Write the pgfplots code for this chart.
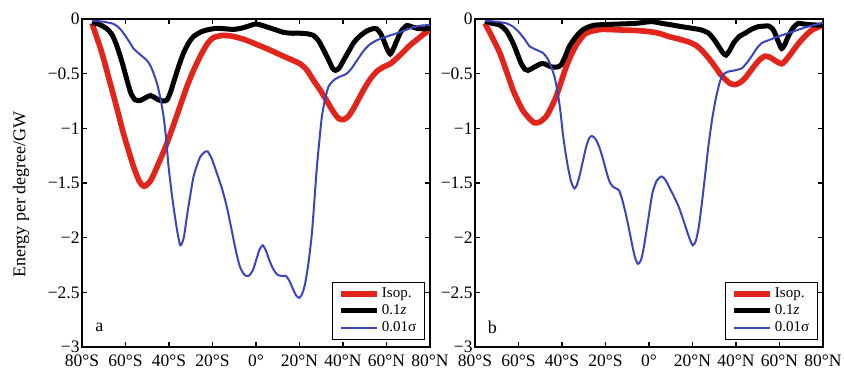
\documentclass[border=0pt]{standalone}
\usepackage{fontspec}
\setmainfont{Liberation Serif}
\usepackage{pgfplots}
\pgfplotsset{compat=1.18}

\definecolor{isored}{RGB}{226,36,26}
\definecolor{sigblue}{RGB}{58,68,188}

\pgfplotsset{
  energy/.style={
    scale only axis, width=174pt, height=164pt,
    xmin=-80, xmax=80, ymin=-3, ymax=0,
    xtick={-80,-60,-40,-20,0,20,40,60,80},
    xticklabels={80°S,60°S,40°S,20°S,0°,20°N,40°N,60°N,80°N},
    ytick={-3,-2.5,-2,-1.5,-1,-0.5,0},
    yticklabels={−3,−2.5,−2,−1.5,−1,−0.5,0},
    tick align=inside, major tick length=2.5pt,
    tick style={black, line width=0.6pt},
    axis line style={line width=0.8pt},
    tick label style={font=\fontsize{8.75}{10}\selectfont},
    yticklabel style={inner xsep=1pt, inner ysep=0pt},
    xticklabel style={inner ysep=3.8pt, inner xsep=0pt},
    label style={font=\fontsize{9}{10}\selectfont},
    legend cell align=left,
    legend style={at={(rel axis cs:0.986,0.021)}, anchor=south east,
      draw=black, line width=0.8pt, font=\fontsize{7.5}{8.5}\selectfont,
      inner xsep=3pt, inner ysep=1.5pt, row sep=0pt,
      nodes={inner sep=1pt}},
    legend image code/.code={\draw[#1,line cap=butt] (0pt,0pt) -- (18pt,0pt);},
  },
  isop/.style={isored, line width=2.8pt, smooth, tension=0.4},
  zed/.style={black, line width=2.5pt, smooth, tension=0.4},
  sig/.style={sigblue, line width=1pt, smooth, tension=0.4},
}

\begin{document}
\begin{tikzpicture}
\path[use as bounding box] (-41pt,-12pt) rectangle (381pt,173.5pt);

% ---- panel a ----
\begin{axis}[energy, at={(0pt,0pt)}, anchor=south west,
  ylabel={Energy per degree/GW},
  ylabel style={at={(rel axis cs:-0.175,0.465)}, anchor=center}]
\addplot[isop] coordinates {
(-75.4,-0.04) (-71,-0.30) (-67,-0.59) (-63.5,-0.85) (-60.9,-1.05) (-56.3,-1.35)
(-53.5,-1.49) (-51.4,-1.53) (-48.5,-1.48) (-45,-1.33) (-41,-1.14) (-36,-0.86)
(-31.8,-0.62) (-28.5,-0.46) (-25.6,-0.34) (-22.5,-0.23) (-19.5,-0.17) (-15,-0.15)
(-10.3,-0.16) (-5,-0.19) (0,-0.23) (6,-0.28) (12.6,-0.34) (20.3,-0.41) (23.5,-0.47)
(26.4,-0.56) (29.5,-0.65) (32.6,-0.75) (35.6,-0.85) (38,-0.91) (40.2,-0.92)
(42.5,-0.89) (44.8,-0.82) (47,-0.74) (49.4,-0.65) (52.5,-0.55) (55.5,-0.48)
(58.5,-0.44) (61.7,-0.41) (64.7,-0.36) (67.8,-0.30) (70.8,-0.24) (73.9,-0.19)
(77,-0.14) (80,-0.10)};
\addlegendentry{Isop.}
\addplot[zed] coordinates {
(-75.4,-0.03) (-72,-0.05) (-68.5,-0.09) (-66,-0.15) (-63.9,-0.25) (-61.5,-0.40)
(-59.3,-0.56) (-57.5,-0.68) (-55.5,-0.74) (-53.2,-0.745) (-50.8,-0.72) (-48.6,-0.70)
(-46.5,-0.72) (-44.8,-0.74) (-42.5,-0.75) (-40.9,-0.74) (-39.3,-0.67) (-37.9,-0.58)
(-35.5,-0.43) (-33.3,-0.31) (-31,-0.22) (-28.7,-0.16) (-25.5,-0.12) (-22.6,-0.10)
(-18,-0.085) (-14,-0.09) (-10.3,-0.095) (-7,-0.085) (-4.2,-0.07) (-2,-0.055)
(0,-0.045) (2.2,-0.055) (4.6,-0.07) (8.5,-0.095) (12.3,-0.12) (16,-0.13) (20,-0.13)
(23.5,-0.135) (26.4,-0.15) (28.8,-0.2) (31,-0.28) (33.5,-0.38) (35.2,-0.45)
(36.5,-0.47) (38.2,-0.45) (40.2,-0.38) (42.5,-0.30) (44.8,-0.22) (47.5,-0.16)
(50.9,-0.11) (53.5,-0.09) (55.5,-0.09) (57.2,-0.13) (58.6,-0.19) (60.2,-0.27)
(61.7,-0.32) (63.2,-0.27) (64.7,-0.2) (66.8,-0.11) (69.3,-0.06) (71.5,-0.07)
(73.9,-0.085) (77,-0.09) (80,-0.085)};
\addlegendentry{0.1\textit{z}}
\addplot[sig] coordinates {
(-75.4,-0.015) (-70,-0.025) (-65.5,-0.045) (-63,-0.08) (-60.9,-0.13) (-58.5,-0.20)
(-56.3,-0.27) (-53,-0.33) (-50.1,-0.38) (-48,-0.45) (-45.5,-0.59) (-43.8,-0.74)
(-42.5,-0.89) (-41.3,-1.10) (-40.2,-1.35) (-38.9,-1.57) (-37.9,-1.72) (-36.3,-1.93)
(-34.8,-2.07) (-33.2,-2.0) (-31.8,-1.81) (-30.2,-1.61) (-28.7,-1.44) (-27,-1.33)
(-25.6,-1.26) (-23.8,-1.22) (-22.3,-1.21) (-20.3,-1.28) (-18,-1.41) (-15.5,-1.56)
(-13.4,-1.72) (-11.8,-1.87) (-10.3,-2.02) (-8.8,-2.16) (-7.3,-2.27) (-5.3,-2.34)
(-3.4,-2.35) (-1.5,-2.30) (0,-2.21) (1.6,-2.11) (3.1,-2.07) (4.6,-2.12) (6.2,-2.21)
(8,-2.29) (9.9,-2.34) (12,-2.35) (13.7,-2.35) (15.2,-2.39) (16.8,-2.46) (18.5,-2.53)
(20,-2.55) (21.3,-2.51) (22.6,-2.42) (24.2,-2.22) (25.7,-1.96) (27,-1.62) (28,-1.35)
(29.2,-1.10) (30.3,-0.89) (31.8,-0.73) (33.3,-0.62) (35.2,-0.57) (37.2,-0.54)
(39.5,-0.52) (41.7,-0.50) (44,-0.45) (46.4,-0.38) (49.5,-0.29) (52.5,-0.23)
(56,-0.19) (60.2,-0.16) (66.2,-0.12) (72.4,-0.075) (76,-0.06) (80,-0.055)};
\addlegendentry{0.01σ}
\node[font=\fontsize{9}{10}\selectfont] at (axis cs:-72,-2.82) {a};
\end{axis}

% ---- panel b ----
\begin{axis}[energy, at={(196.5pt,0pt)}, anchor=south west]
\addplot[isop] coordinates {
(-75.4,-0.04) (-72,-0.17) (-68.6,-0.31) (-65.5,-0.48) (-62.5,-0.65) (-60,-0.76)
(-57.9,-0.84) (-55,-0.91) (-52.6,-0.95) (-50,-0.94) (-47.2,-0.89) (-45,-0.81)
(-42.7,-0.71) (-40.5,-0.58) (-38.1,-0.44) (-35.8,-0.33) (-33.5,-0.24) (-31,-0.17)
(-29,-0.13) (-25,-0.105) (-21.3,-0.095) (-13.7,-0.10) (-6,-0.105) (0,-0.115)
(4.5,-0.13) (9.1,-0.16) (14,-0.185) (18.3,-0.21) (21.5,-0.24) (24.4,-0.29)
(27.5,-0.36) (30.5,-0.44) (33,-0.51) (35,-0.55) (37.3,-0.59) (39.6,-0.60) (42,-0.58)
(44.2,-0.54) (46.5,-0.48) (48.8,-0.42) (51,-0.37) (53.3,-0.34) (55.6,-0.35)
(57.9,-0.38) (61,-0.41) (63.2,-0.37) (65.5,-0.31) (68.5,-0.23) (71.6,-0.16)
(75,-0.10) (80,-0.055)};
\addlegendentry{Isop.}
\addplot[zed] coordinates {
(-75.4,-0.02) (-72,-0.04) (-68.6,-0.055) (-65.5,-0.11) (-62.5,-0.22) (-60.5,-0.32)
(-58.7,-0.41) (-57,-0.46) (-55.6,-0.47) (-53.6,-0.45) (-51.8,-0.43) (-49.8,-0.41)
(-48,-0.41) (-46,-0.43) (-44.2,-0.44) (-42.3,-0.44) (-40.4,-0.42) (-38.5,-0.34)
(-36.6,-0.25) (-33.5,-0.16) (-30.5,-0.10) (-27.5,-0.07) (-24.4,-0.055) (-19,-0.05)
(-13.7,-0.046) (-6.1,-0.04) (-2,-0.03) (1.5,-0.024) (6,-0.04) (10.7,-0.055)
(15,-0.07) (19.8,-0.085) (24,-0.1) (27.4,-0.13) (30,-0.19) (32,-0.25) (34,-0.31)
(35.4,-0.33) (37,-0.29) (38.9,-0.22) (41.5,-0.16) (44.2,-0.13) (47,-0.095)
(50.3,-0.07) (54.9,-0.064) (56.8,-0.09) (57.9,-0.13) (59.5,-0.21) (61,-0.27)
(62.5,-0.23) (64,-0.16) (66.3,-0.08) (68.6,-0.04) (71,-0.045) (73.1,-0.05)
(77,-0.055) (80,-0.055)};
\addlegendentry{0.1\textit{z}}
\addplot[sig] coordinates {
(-75.4,-0.015) (-70,-0.025) (-65.5,-0.04) (-62.5,-0.07) (-59.4,-0.13) (-57,-0.19)
(-54.9,-0.25) (-52,-0.28) (-48.8,-0.31) (-46.7,-0.36) (-44.9,-0.44) (-43.3,-0.54)
(-41.9,-0.68) (-40.7,-0.85) (-39.6,-1.05) (-38.4,-1.22) (-37.3,-1.35) (-35.8,-1.49)
(-34.3,-1.55) (-33.2,-1.52) (-32,-1.44) (-30.4,-1.30) (-28.9,-1.17) (-27.5,-1.09)
(-26.2,-1.07) (-24.5,-1.10) (-22.9,-1.17) (-21.3,-1.27) (-19.8,-1.38) (-18.3,-1.48)
(-16.8,-1.53) (-15.2,-1.55) (-13.7,-1.57) (-12.2,-1.66) (-10.7,-1.78) (-9.1,-1.93)
(-7.6,-2.08) (-6.3,-2.19) (-5,-2.24) (-3.6,-2.20) (-2.3,-2.08) (-0.5,-1.85)
(1.5,-1.60) (3.5,-1.48) (5.8,-1.44) (7.5,-1.47) (9.1,-1.53) (11.4,-1.62) (13.7,-1.72)
(15.3,-1.81) (16.8,-1.90) (18.5,-2.0) (20.1,-2.07) (21.5,-2.03) (22.9,-1.90)
(24.4,-1.67) (25.9,-1.41) (27.4,-1.15) (29,-0.92) (30.8,-0.72) (32.8,-0.56)
(34.6,-0.50) (36.6,-0.48) (39.5,-0.47) (42.7,-0.45) (45,-0.40) (47.2,-0.34)
(49.5,-0.27) (51.8,-0.22) (55.5,-0.19) (59.4,-0.16) (65.5,-0.12) (69,-0.095)
(73.1,-0.07) (77,-0.05) (80,-0.035)};
\addlegendentry{0.01σ}
\node[font=\fontsize{9}{10}\selectfont] at (axis cs:-72,-2.82) {b};
\end{axis}
\end{tikzpicture}
\end{document}
